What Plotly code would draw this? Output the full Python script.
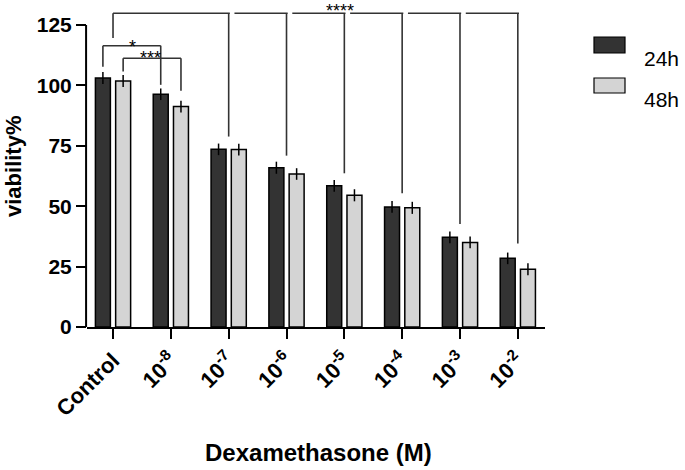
import plotly.graph_objects as go

# ---- data ----
categories = ["Control", "10<sup>-8</sup>", "10<sup>-7</sup>", "10<sup>-6</sup>",
              "10<sup>-5</sup>", "10<sup>-4</sup>", "10<sup>-3</sup>", "10<sup>-2</sup>"]
v24 = [103.0, 96.3, 73.5, 65.9, 58.4, 49.7, 37.1, 28.4]
v48 = [101.8, 91.2, 73.4, 63.3, 54.5, 49.3, 35.0, 23.9]
e24 = [2.5, 2.4, 2.4, 2.5, 2.4, 2.4, 2.4, 2.4]
e48 = [2.5, 2.4, 2.4, 2.4, 2.5, 2.5, 2.4, 2.5]
series_names = ["24h", "48h"]
y_ticks = [0, 25, 50, 75, 100, 125]

# significance brackets (Control vs each of 10^-7..10^-2): leg bottoms
top_bracket_y = 129.8
control_leg_bottom = 119.6
leg_bottoms = [78.8, 70.9, 63.6, 55.3, 42.6, 34.6]

xs = list(range(len(categories)))
FONT = "Arial, 'Liberation Sans', sans-serif"
DARK = "#333333"
LIGHT = "#d4d4d4"
LINE = "#333333"

# layout geometry (px)
L, R, T, B = 87, 140, 0, 143
W, H = 685, 470
PW, PH = W - L - R, H - T - B


def px_x(p):
    return (p - L) / PW


def px_y(p):
    return (T + PH - p) / PH


fig = go.Figure()
fig.add_trace(go.Bar(x=xs, y=v24, name=series_names[0],
                     marker=dict(color=DARK, line=dict(color="black", width=1.5)),
                     error_y=dict(type="data", array=e24, color="black", thickness=1.5, width=0),
                     showlegend=False))
fig.add_trace(go.Bar(x=xs, y=v48, name=series_names[1],
                     marker=dict(color=LIGHT, line=dict(color="black", width=1.5)),
                     error_y=dict(type="data", array=e48, color="black", thickness=1.5, width=0),
                     showlegend=False))

shapes = []


def seg(x0, y0, x1, y1, xref="x", yref="y", w=1.6):
    shapes.append(dict(type="line", x0=x0, y0=y0, x1=x1, y1=y1, xref=xref, yref=yref,
                       line=dict(color=LINE, width=w)))


# top bracket
seg(0, control_leg_bottom, 0, top_bracket_y)
for i, yb in enumerate(leg_bottoms):
    k = i + 2
    start = 0 if k == 2 else (k - 1) + 0.1
    seg(start, top_bracket_y, k + 0.02, top_bracket_y)
    seg(k, top_bracket_y, k, yb)

# * bracket: Control 24h vs 1e-8 24h
off = 0.175
seg(-off, 116.4, 1 - off, 116.4)
seg(-off, 116.4, -off, 107.7)
seg(1 - off, 116.4, 1 - off, 100.2)
# *** bracket: Control 48h vs 1e-8 48h
seg(off, 111.2, 1 + off, 111.2)
seg(off, 111.2, off, 105.7)
seg(1 + off, 111.2, 1 + off, 97.8)

# y axis line from 0 to 125
shapes.append(dict(type="line", xref="paper", yref="y", x0=-0.002, x1=-0.002, y0=0, y1=125,
                   line=dict(color="black", width=2)))

# legend boxes
shapes.append(dict(type="rect", xref="paper", yref="paper",
                   x0=px_x(594), x1=px_x(625), y0=px_y(53), y1=px_y(37),
                   fillcolor=DARK, line=dict(color="black", width=1.2)))
shapes.append(dict(type="rect", xref="paper", yref="paper",
                   x0=px_x(594), x1=px_x(625), y0=px_y(93), y1=px_y(78),
                   fillcolor=LIGHT, line=dict(color="black", width=1.2)))

annotations = [
    dict(text="*", x=0.34, y=px_y(43), xref="x", yref="paper", showarrow=False,
         font=dict(family=FONT, size=18, color="black"), yanchor="middle", yshift=-4),
    dict(text="***", x=0.64, y=px_y(54), xref="x", yref="paper", showarrow=False,
         font=dict(family=FONT, size=18, color="black"), yanchor="middle", yshift=-4),
    dict(text="****", x=3.93, y=1, xref="x", yref="paper", showarrow=False,
         font=dict(family=FONT, size=18, color="black"), yanchor="top", yshift=1),
    dict(text="<b>viability%</b>", x=px_x(13), y=px_y(167), xref="paper", yref="paper",
         xanchor="center", yanchor="middle",
         showarrow=False, textangle=-90, font=dict(family=FONT, size=22, color="black")),
    dict(text="<b>Dexamethasone (M)</b>", x=px_x(318), y=px_y(452), xref="paper", yref="paper",
         xanchor="center", yanchor="middle",
         showarrow=False, font=dict(family=FONT, size=24, color="black")),
    dict(text=series_names[0], x=px_x(642), y=px_y(45), xref="paper", yref="paper",
         showarrow=False, xanchor="left", font=dict(family=FONT, size=21, color="black")),
    dict(text=series_names[1], x=px_x(642), y=px_y(86), xref="paper", yref="paper",
         showarrow=False, xanchor="left", font=dict(family=FONT, size=21, color="black")),
]

fig.update_layout(
    width=W, height=H,
    margin=dict(l=L, r=R, t=T, b=B, pad=0),
    paper_bgcolor="white", plot_bgcolor="white",
    barmode="group", bargap=0.3, bargroupgap=0.26,
    shapes=shapes, annotations=annotations,
    showlegend=False,
    font=dict(family=FONT, color="black"),
)
fig.update_xaxes(
    range=[-0.45, 7.47], tickvals=xs, ticktext=["<b>%s</b>" % c for c in categories],
    tickangle=-45, ticks="outside", ticklen=10, tickwidth=2, tickcolor="black",
    showline=True, linewidth=2, linecolor="black", showgrid=False, zeroline=False,
    tickfont=dict(family=FONT, size=22, color="black"),
)
fig.update_yaxes(
    range=[0, 135.3], tickvals=y_ticks, ticktext=["<b>%d</b>" % t for t in y_ticks],
    ticks="outside", ticklen=10, tickwidth=2, tickcolor="black",
    showline=False, showgrid=False, zeroline=False,
    tickfont=dict(family=FONT, size=21, color="black"),
)

fig.write_html("out.html", config={"displayModeBar": False},
               post_script="document.body.style.margin='0';document.body.style.overflow='hidden';")
